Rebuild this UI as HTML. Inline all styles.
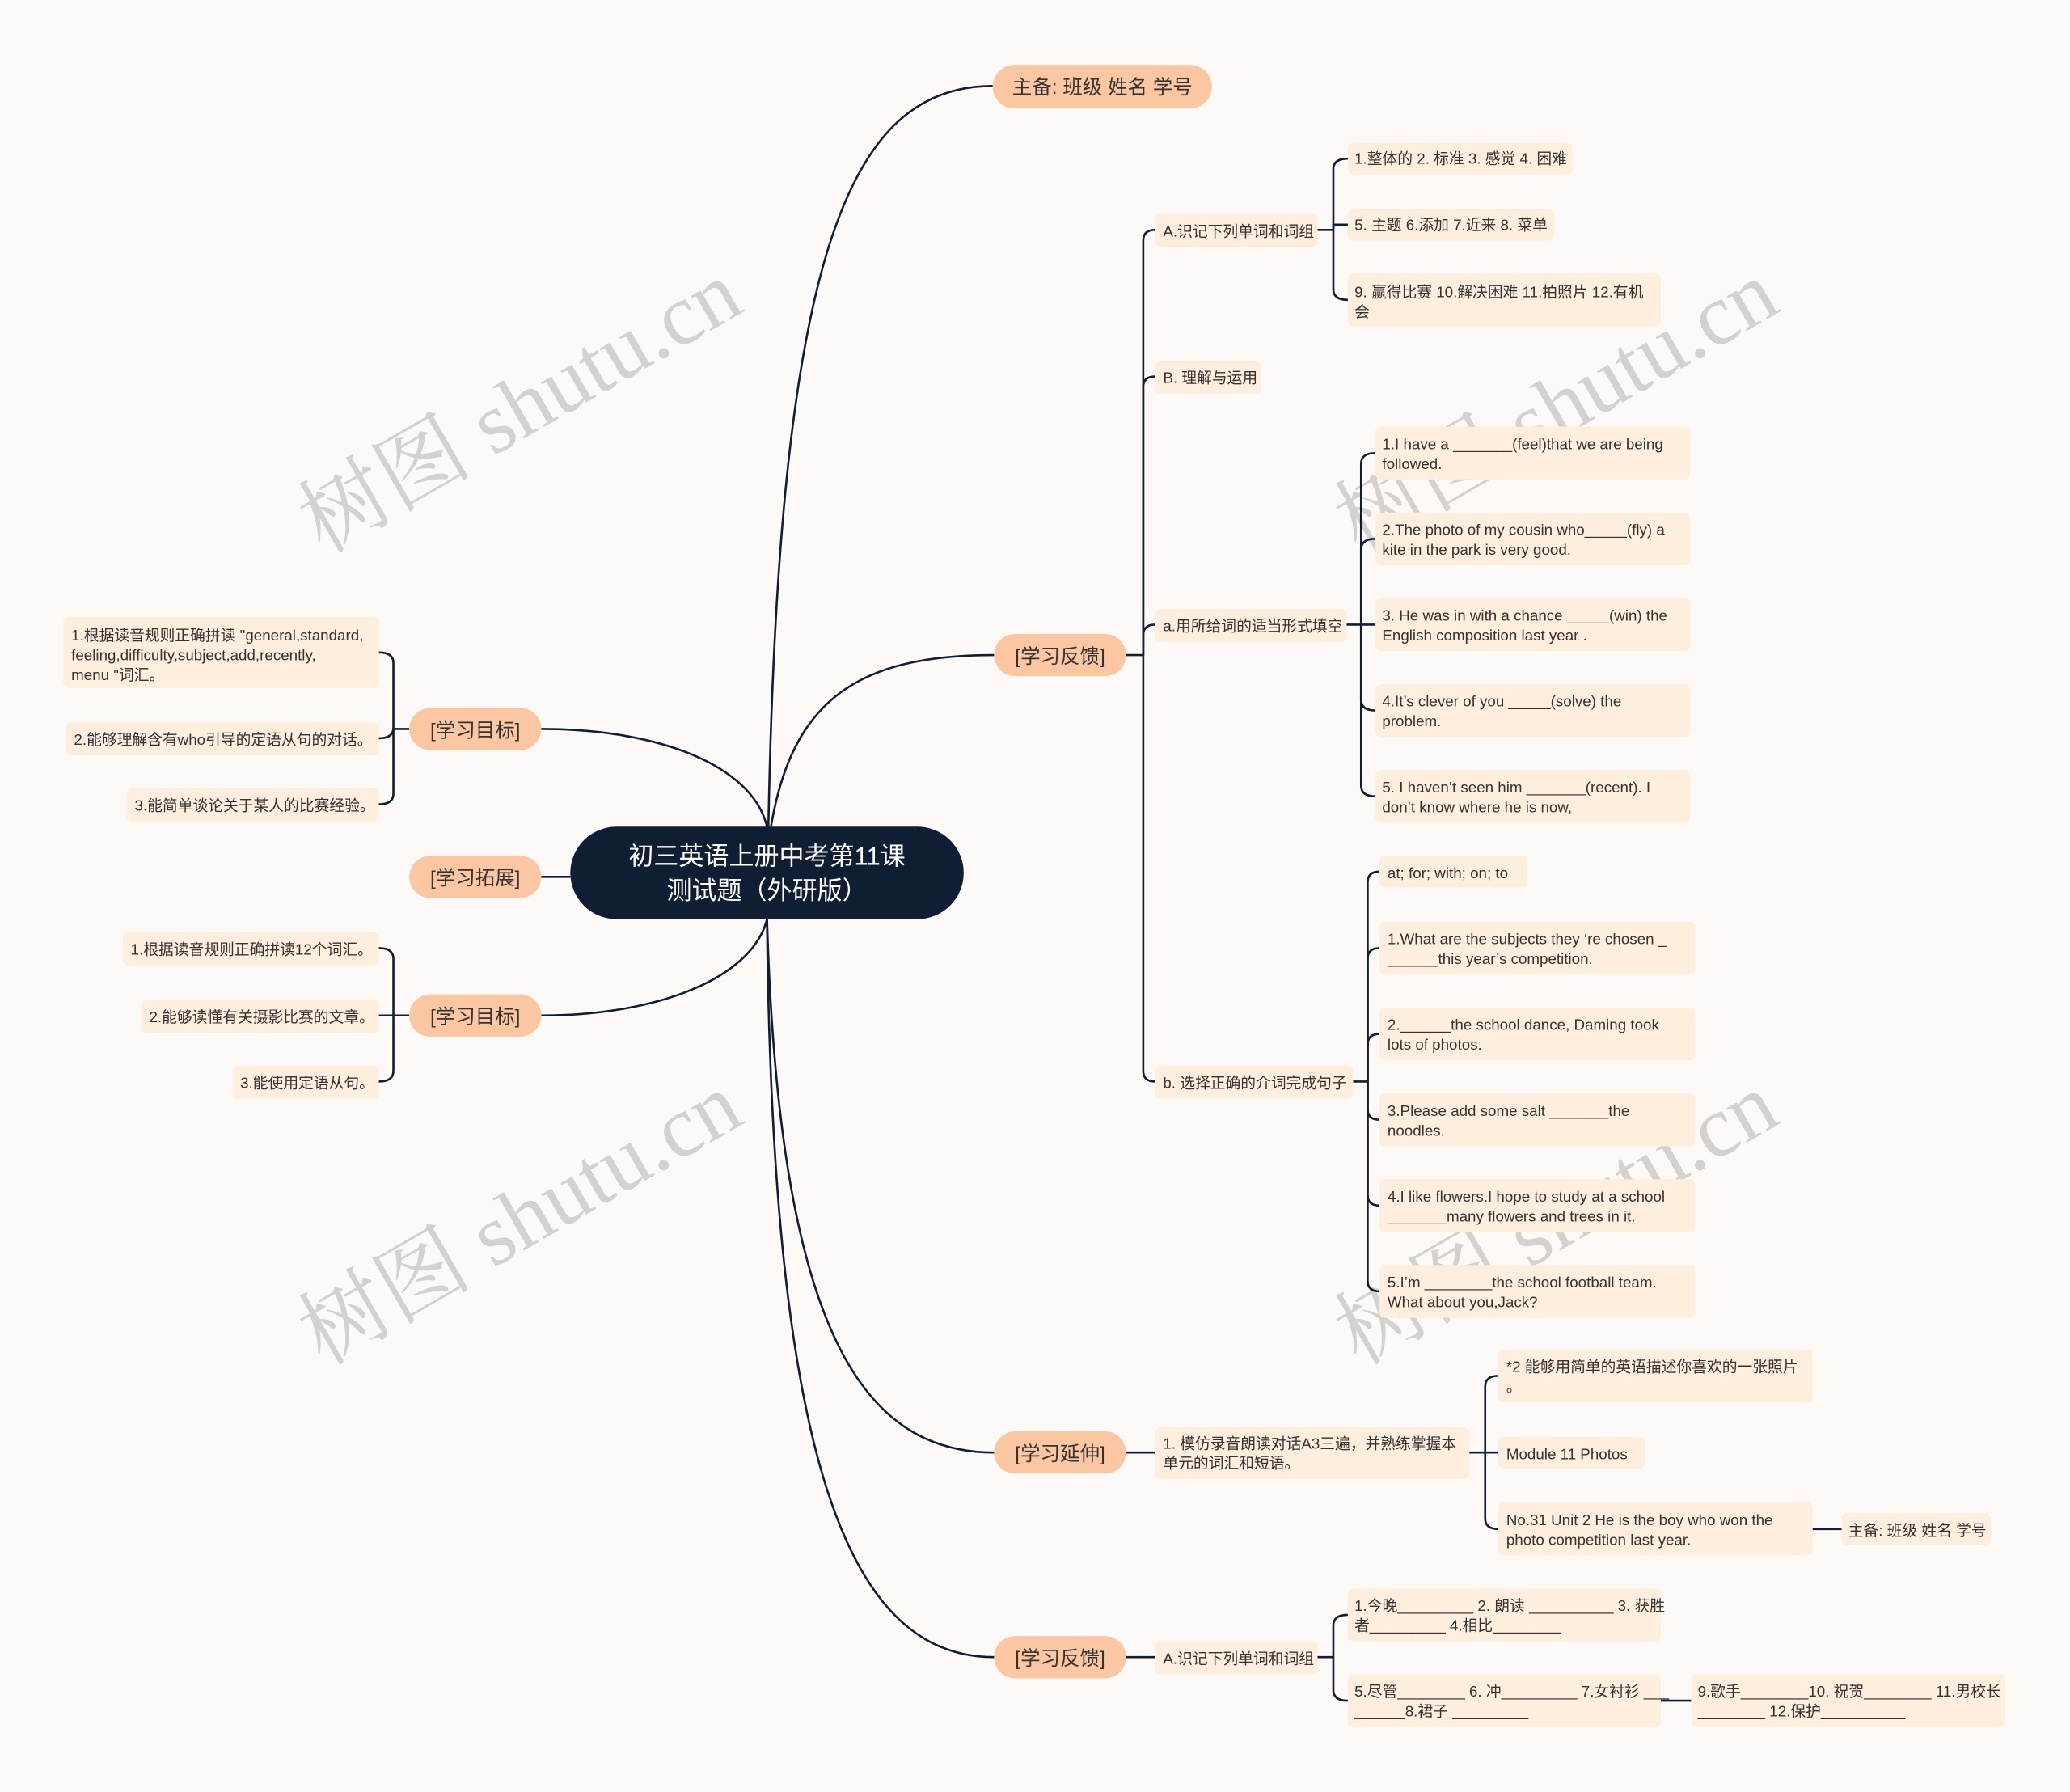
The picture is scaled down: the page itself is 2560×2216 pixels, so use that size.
<!DOCTYPE html>
<html><head><meta charset="utf-8"><style>
html,body{margin:0;padding:0;background:#fdf9f6;}
svg{display:block;}
text{font-family:"Liberation Sans","Noto Sans CJK SC",sans-serif;fill:#333;}
</style></head><body>
<svg width="2560" height="2216" viewBox="0 0 1568 1357" xmlns="http://www.w3.org/2000/svg">
<rect width="1568" height="1357" fill="#fdf9f6"/>
<g fill="none" stroke="#0f1e33" stroke-width="1.6">
<path d="M582 628 C590 200 640 65 752 65"/>
<path d="M584 626 C600 530 650 496 753 496"/>
<path d="M581 696 C590 1000 650 1100 753 1100"/>
<path d="M581 696 C585 1100 640 1255 753 1255"/>
<path d="M581 626 C570 580 500 552 410 552"/>
<path d="M581 696 C570 740 500 769 410 769"/>
<path d="M410 664 H432"/>
<path d="M853 496 H866 V182 Q866 174 875 174"/>
<path d="M866 496 V293 Q866 285 875 285"/>
<path d="M866 496 V481 Q866 473 875 473"/>
<path d="M866 496 V811 Q866 819 875 819"/>
<path d="M998 174 H1010 V128 Q1010 120 1021 120"/>
<path d="M1010 174 V170 H1021"/>
<path d="M1010 174 V219 Q1010 227 1021 227"/>
<path d="M1020 473 H1031 V351 Q1031 343 1042 343"/>
<path d="M1031 473 V416 Q1031 408 1042 408"/>
<path d="M1031 473 H1042"/>
<path d="M1031 473 V530 Q1031 538 1042 538"/>
<path d="M1031 473 V595 Q1031 603 1042 603"/>
<path d="M1025 819 H1036 V668 Q1036 660 1045 660"/>
<path d="M1036 819 V726 Q1036 718 1045 718"/>
<path d="M1036 819 V791 Q1036 783 1045 783"/>
<path d="M1036 819 V840 Q1036 848 1045 848"/>
<path d="M1036 819 V905 Q1036 913 1045 913"/>
<path d="M1036 819 V970 Q1036 978 1045 978"/>
<path d="M853 1100 H875"/>
<path d="M1113 1100 H1125 V1050 Q1125 1042 1135 1042"/>
<path d="M1125 1100 H1135"/>
<path d="M1125 1100 V1150 Q1125 1158 1135 1158"/>
<path d="M1373 1158 H1395"/>
<path d="M853 1255 H875"/>
<path d="M998 1255 H1010 V1231 Q1010 1223 1021 1223"/>
<path d="M1010 1255 V1280 Q1010 1288 1021 1288"/>
<path d="M1258 1288 H1281"/>
<path d="M310 552 H298 V502 Q298 494 287 494"/>
<path d="M298 552 V551 Q298 559 287 559"/>
<path d="M298 552 V601 Q298 609 287 609"/>
<path d="M310 769 H298 V726 Q298 718 287 718"/>
<path d="M298 769 H287"/>
<path d="M298 769 V811 Q298 819 287 819"/>
</g>
<!-- watermarks -->
<g fill="#000" fill-opacity="0.16" font-family="Liberation Serif,Noto Serif CJK SC,serif" font-size="66">
<text x="395" y="330" text-anchor="middle" transform="rotate(-30 395 310)" style="fill:#000;fill-opacity:.16;font-family:'Liberation Serif','Noto Serif CJK SC',serif">树图 shutu.cn</text>
<text x="1180" y="330" text-anchor="middle" transform="rotate(-30 1180 310)" style="fill:#000;fill-opacity:.16;font-family:'Liberation Serif','Noto Serif CJK SC',serif">树图 shutu.cn</text>
<text x="395" y="945" text-anchor="middle" transform="rotate(-30 395 925)" style="fill:#000;fill-opacity:.16;font-family:'Liberation Serif','Noto Serif CJK SC',serif">树图 shutu.cn</text>
<text x="1180" y="945" text-anchor="middle" transform="rotate(-30 1180 925)" style="fill:#000;fill-opacity:.16;font-family:'Liberation Serif','Noto Serif CJK SC',serif">树图 shutu.cn</text>
</g>
<!-- center -->
<rect x="432" y="626" width="298" height="70" rx="35" fill="#0f1e33"/>
<text x="581" y="655" text-anchor="middle" font-size="19" style="fill:#fff">初三英语上册中考第11课</text>
<text x="581" y="681" text-anchor="middle" font-size="19" style="fill:#fff">测试题（外研版）</text>
<!-- level1 pills -->
<g fill="#fbc6a2">
<rect x="752" y="49" width="166" height="33" rx="16.5"/>
<rect x="753" y="480" width="100" height="32" rx="16"/>
<rect x="753" y="1084" width="100" height="32" rx="16"/>
<rect x="753" y="1239" width="100" height="32" rx="16"/>
<rect x="310" y="536" width="100" height="32" rx="16"/>
<rect x="310" y="648" width="100" height="32" rx="16"/>
<rect x="310" y="753" width="100" height="32" rx="16"/>
</g>
<g font-size="15" text-anchor="middle">
<text x="835" y="71">主备: 班级 姓名 学号</text>
<text x="803" y="502">[学习反馈]</text>
<text x="803" y="1106">[学习延伸]</text>
<text x="803" y="1261">[学习反馈]</text>
<text x="360" y="558">[学习目标]</text>
<text x="360" y="670">[学习拓展]</text>
<text x="360" y="775">[学习目标]</text>
</g>
<!-- leaf boxes -->
<g fill="#fdeedd">
<rect x="875" y="162" width="123" height="25" rx="4"/>
<rect x="875" y="273" width="80" height="25" rx="4"/>
<rect x="875" y="461" width="145" height="25" rx="4"/>
<rect x="875" y="807" width="150" height="25" rx="4"/>
<rect x="1021" y="108" width="170" height="24" rx="4"/>
<rect x="1021" y="158" width="156" height="24" rx="4"/>
<rect x="1021" y="207" width="237" height="40" rx="4"/>
<rect x="1042" y="323" width="238" height="40" rx="4"/>
<rect x="1042" y="388" width="238" height="40" rx="4"/>
<rect x="1042" y="453" width="238" height="40" rx="4"/>
<rect x="1042" y="518" width="238" height="40" rx="4"/>
<rect x="1042" y="583" width="238" height="40" rx="4"/>
<rect x="1045" y="648" width="112" height="24" rx="4"/>
<rect x="1045" y="698" width="239" height="40" rx="4"/>
<rect x="1045" y="763" width="239" height="40" rx="4"/>
<rect x="1045" y="828" width="239" height="40" rx="4"/>
<rect x="1045" y="893" width="239" height="40" rx="4"/>
<rect x="1045" y="958" width="239" height="40" rx="4"/>
<rect x="875" y="1081" width="238" height="39" rx="4"/>
<rect x="1135" y="1022" width="238" height="40" rx="4"/>
<rect x="1135" y="1088" width="111" height="24" rx="4"/>
<rect x="1135" y="1138" width="238" height="40" rx="4"/>
<rect x="1395" y="1146" width="113" height="24" rx="4"/>
<rect x="875" y="1243" width="123" height="25" rx="4"/>
<rect x="1021" y="1203" width="237" height="40" rx="4"/>
<rect x="1021" y="1268" width="237" height="40" rx="4"/>
<rect x="1281" y="1268" width="238" height="40" rx="4"/>
<rect x="48" y="467" width="239" height="54" rx="4"/>
<rect x="50" y="547" width="237" height="25" rx="4"/>
<rect x="96" y="597" width="191" height="25" rx="4"/>
<rect x="93" y="706" width="194" height="25" rx="4"/>
<rect x="107" y="757" width="180" height="25" rx="4"/>
<rect x="176" y="807" width="111" height="25" rx="4"/>
</g>
<g font-size="11.5">
<text x="881" y="179">A.识记下列单词和词组</text>
<text x="881" y="290">B. 理解与运用</text>
<text x="881" y="478">a.用所给词的适当形式填空</text>
<text x="881" y="824">b. 选择正确的介词完成句子</text>
<text x="1026" y="124">1.整体的 2. 标准 3. 感觉 4. 困难</text>
<text x="1026" y="174">5. 主题 6.添加 7.近来 8. 菜单</text>
<text x="1026" y="225">9. 赢得比赛 10.解决困难 11.拍照片 12.有机</text>
<text x="1026" y="240">会</text>
<text x="1047" y="340">1.I have a _______(feel)that we are being</text>
<text x="1047" y="355">followed.</text>
<text x="1047" y="405">2.The photo of my cousin who_____(fly) a</text>
<text x="1047" y="420"> kite in the park is very good.</text>
<text x="1047" y="470">3. He was in with a chance _____(win) the</text>
<text x="1047" y="485"> English composition last year .</text>
<text x="1047" y="535">4.It’s clever of you _____(solve) the</text>
<text x="1047" y="550">problem.</text>
<text x="1047" y="600">5. I haven’t seen him _______(recent). I</text>
<text x="1047" y="615">don’t know where he is now,</text>
<text x="1051" y="665">at; for; with; on; to</text>
<text x="1051" y="715">1.What are the subjects they ‘re chosen _</text>
<text x="1051" y="730">______this year’s competition.</text>
<text x="1051" y="780">2.______the school dance, Daming took</text>
<text x="1051" y="795">lots of photos.</text>
<text x="1051" y="845">3.Please add some salt _______the</text>
<text x="1051" y="860">noodles.</text>
<text x="1051" y="910">4.I like flowers.I hope to study at a school</text>
<text x="1051" y="925"> _______many flowers and trees in it.</text>
<text x="1051" y="975">5.I’m ________the school football team.</text>
<text x="1051" y="990">What about you,Jack?</text>
<text x="881" y="1097">1. 模仿录音朗读对话A3三遍，并熟练掌握本</text>
<text x="881" y="1112">单元的词汇和短语。</text>
<text x="1141" y="1039">*2 能够用简单的英语描述你喜欢的一张照片</text>
<text x="1141" y="1054">。</text>
<text x="1141" y="1105">Module 11 Photos</text>
<text x="1141" y="1155">No.31 Unit 2 He is the boy who won the</text>
<text x="1141" y="1170">photo competition last year.</text>
<text x="1400" y="1163">主备: 班级 姓名 学号</text>
<text x="881" y="1260">A.识记下列单词和词组</text>
<text x="1026" y="1220">1.今晚_________ 2. 朗读 __________ 3. 获胜</text>
<text x="1026" y="1235">者_________ 4.相比________</text>
<text x="1026" y="1285">5.尽管________ 6. 冲_________ 7.女衬衫 ___</text>
<text x="1026" y="1300">______8.裙子 _________</text>
<text x="1286" y="1285">9.歌手________10. 祝贺________ 11.男校长</text>
<text x="1286" y="1300">________ 12.保护__________</text>
<text x="54" y="485">1.根据读音规则正确拼读 "general,standard,</text>
<text x="54" y="500">feeling,difficulty,subject,add,recently,</text>
<text x="54" y="515">menu "词汇。</text>
<text x="56" y="564">2.能够理解含有who引导的定语从句的对话。</text>
<text x="102" y="614">3.能简单谈论关于某人的比赛经验。</text>
<text x="99" y="723">1.根据读音规则正确拼读12个词汇。</text>
<text x="113" y="774">2.能够读懂有关摄影比赛的文章。</text>
<text x="182" y="824">3.能使用定语从句。</text>
</g>
</svg>
</body></html>
